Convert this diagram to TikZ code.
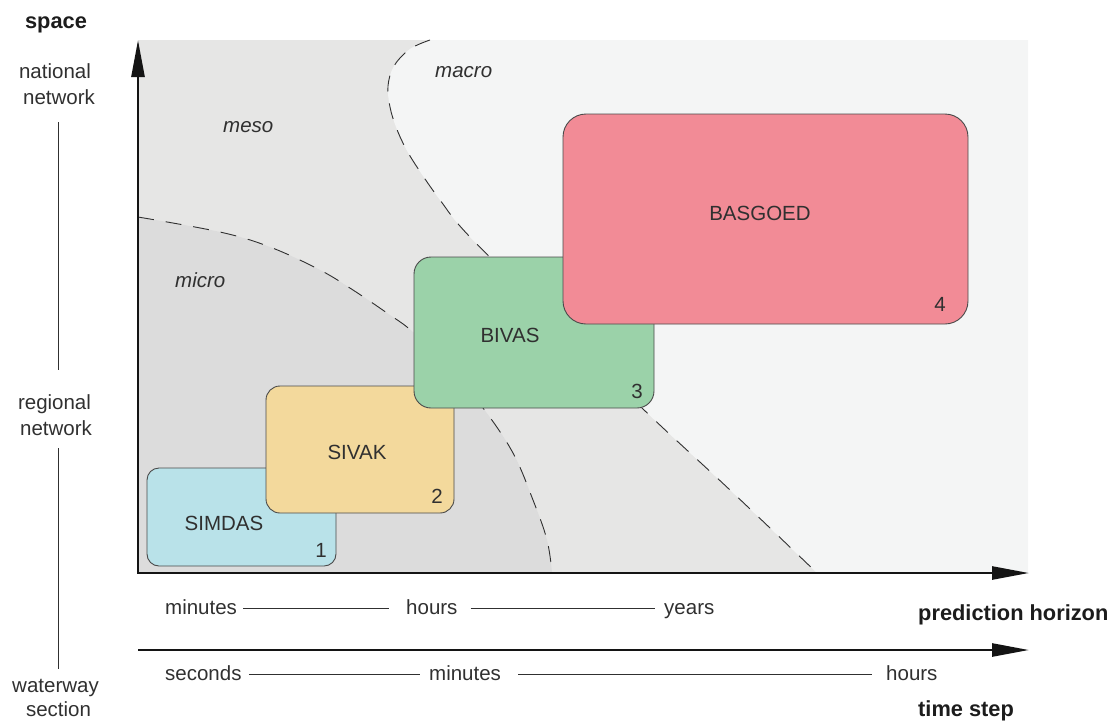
\documentclass[tikz,border=0pt]{standalone}
\usepackage{fontspec}
\setmainfont{Liberation Sans}
\usetikzlibrary{arrows.meta,calc}

\definecolor{ink}{HTML}{303030}
\definecolor{titleink}{HTML}{1C1C1C}
\definecolor{mesofill}{HTML}{E6E6E5}
\definecolor{microfill}{HTML}{DCDCDC}
\definecolor{macrofill}{HTML}{F4F5F5}
\definecolor{boxline}{HTML}{4A4A4A}
\definecolor{simdasfill}{HTML}{B9E2E9}
\definecolor{sivakfill}{HTML}{F3D99C}
\definecolor{bivasfill}{HTML}{9BD2A9}
\definecolor{basgoedfill}{HTML}{F28B96}

\begin{document}
\begin{tikzpicture}[x=1pt,y=-1pt,
  txt/.style={inner sep=0pt, text=ink, font=\fontsize{20.5}{26}\selectfont},
  tick/.style={txt, text height=11pt, text depth=0pt, anchor=base west},
  ttl/.style={inner sep=0pt, text=titleink, font=\fontsize{21.8}{26}\selectfont\bfseries},
  zonelabel/.style={inner sep=0pt, text=ink, anchor=base west, font=\fontsize{20.5}{26}\selectfont\itshape},
  modelbox/.style={draw=boxline, line width=0.9pt, inner sep=0pt},
  zoneedge/.style={draw=ink, line width=0.9pt, dash pattern=on 16pt off 12pt},
  mainaxis/.style={draw=black!92, line width=2.6pt, line join=miter},
  tickline/.style={draw=ink, line width=0.9pt},
  tip/.tip={Triangle[length=37pt,width=13pt]},
]
\useasboundingbox (0,0) rectangle (1113,721);

% frame of the plot
\coordinate (O) at (138,573);
\coordinate (ytip) at (138,40);
\coordinate (xtip) at (1029,573);
\coordinate (NE) at (1028,40);
\coordinate (SE) at (1028,573);
\coordinate (t0) at (138,650);
\coordinate (t1) at (1029,650);
\coordinate (bar) at (58,0);

% zones: meso (background), macro (upper right), micro (lower left)
\fill[mesofill] (O) rectangle (NE);
\fill[macrofill] plot[smooth,tension=0.6] coordinates {(430,40) (410,49) (394,66) (388,86) (390,107) (396,127) (405,147) (417,167) (440,200) (470,237) (556,322) (642,408) (730,490) (817,573)} -- (SE) -- (NE) -- cycle;
\fill[microfill] plot[smooth,tension=0.6] coordinates {(138,217) (220,232) (270,247) (320,270) (353,290) (387,313) (413,332) (448,367) (483,408) (513,453) (533,500) (547,540) (552,573)} -- (O) -- cycle;

\draw[zoneedge] plot[smooth,tension=0.6] coordinates {(430,40) (410,49) (394,66) (388,86) (390,107) (396,127) (405,147) (417,167) (440,200) (470,237) (556,322) (642,408) (730,490) (817,573)};
\draw[zoneedge] plot[smooth,tension=0.6] coordinates {(138,217) (220,232) (270,247) (320,270) (353,290) (387,313) (413,332) (448,367) (483,408) (513,453) (533,500) (547,540) (552,573)};

\node[zonelabel] (meso) at (223,132) {meso};
\node[zonelabel] (macro) at (435,77) {macro};
\node[zonelabel] (micro) at (175,287) {micro};

% axes
\draw[mainaxis, tip-tip] (ytip) -- (O) -- (xtip);
\draw[mainaxis, -tip] (t0) -- (t1);

% models
\node[modelbox, fill=simdasfill, minimum width=189pt, minimum height=98pt, rounded corners=12pt] (simdas) at (241.5,517) {};
\node[modelbox, fill=sivakfill, minimum width=188pt, minimum height=127pt, rounded corners=14pt] (sivak) at (360,449.5) {};
\node[modelbox, fill=bivasfill, minimum width=240pt, minimum height=151pt, rounded corners=17pt] (bivas) at (534,332.5) {};
\node[modelbox, fill=basgoedfill, minimum width=405pt, minimum height=210pt, rounded corners=23pt] (basgoed) at (765.5,219) {};

\node[txt, anchor=base] (simdasname) at (224,530) {SIMDAS};
\node[txt, anchor=base] (simdasno) at (321,557) {1};
\node[txt, anchor=base] (sivakname) at (357,459) {SIVAK};
\node[txt, anchor=base] (sivakno) at (437,503) {2};
\node[txt, anchor=base] (bivasname) at (510,342) {BIVAS};
\node[txt, anchor=base] (bivasno) at (637,398) {3};
\node[txt, anchor=base] (basgoedname) at (760,220) {BASGOED};
\node[txt, anchor=base] (basgoedno) at (940,311) {4};

% space scale on the left
\node[ttl, anchor=base] (space) at (56,28) {space};
\node[txt, anchor=base] (nat) at (55,78) {national};
\node[txt, anchor=base] (natnet) at (59,104) {network};
\node[txt, anchor=base] (reg) at (54.5,409) {regional};
\node[txt, anchor=base] (regnet) at (56,435) {network};
\node[txt, anchor=base] (wway) at (55.5,692) {waterway};
\node[txt, anchor=base] (wsec) at (58.5,716) {section};

\draw[tickline] ($(bar |- natnet.south)+(0,18)$) -- ($(bar |- reg.north)+(0,-24)$);
\draw[tickline] ($(bar |- regnet.south)+(0,13)$) -- ($(bar |- wway.north)+(0,-10)$);

% prediction horizon scale
\node[tick] (phmin) at (165,614) {minutes};
\node[tick] (phhour) at (406,614) {hours};
\node[tick] (phyear) at (664,614) {years};
\draw[tickline] ([xshift=6pt]phmin.east) -- ([xshift=-17pt]phhour.west);
\draw[tickline] ([xshift=13pt]phhour.east) -- ([xshift=-9pt]phyear.west);
\node[ttl, anchor=base west] (ph) at (918,620) {prediction horizon};

% time step scale
\node[tick] (tssec) at (165,680) {seconds};
\node[tick] (tsmin) at (429,680) {minutes};
\node[tick] (tshour) at (886,680) {hours};
\draw[tickline] ([xshift=7pt]tssec.east) -- ([xshift=-9pt]tsmin.west);
\draw[tickline] ([xshift=17pt]tsmin.east) -- ([xshift=-14pt]tshour.west);
\node[ttl, anchor=base west] (ts) at (918,716) {time step};
\end{tikzpicture}
\end{document}
